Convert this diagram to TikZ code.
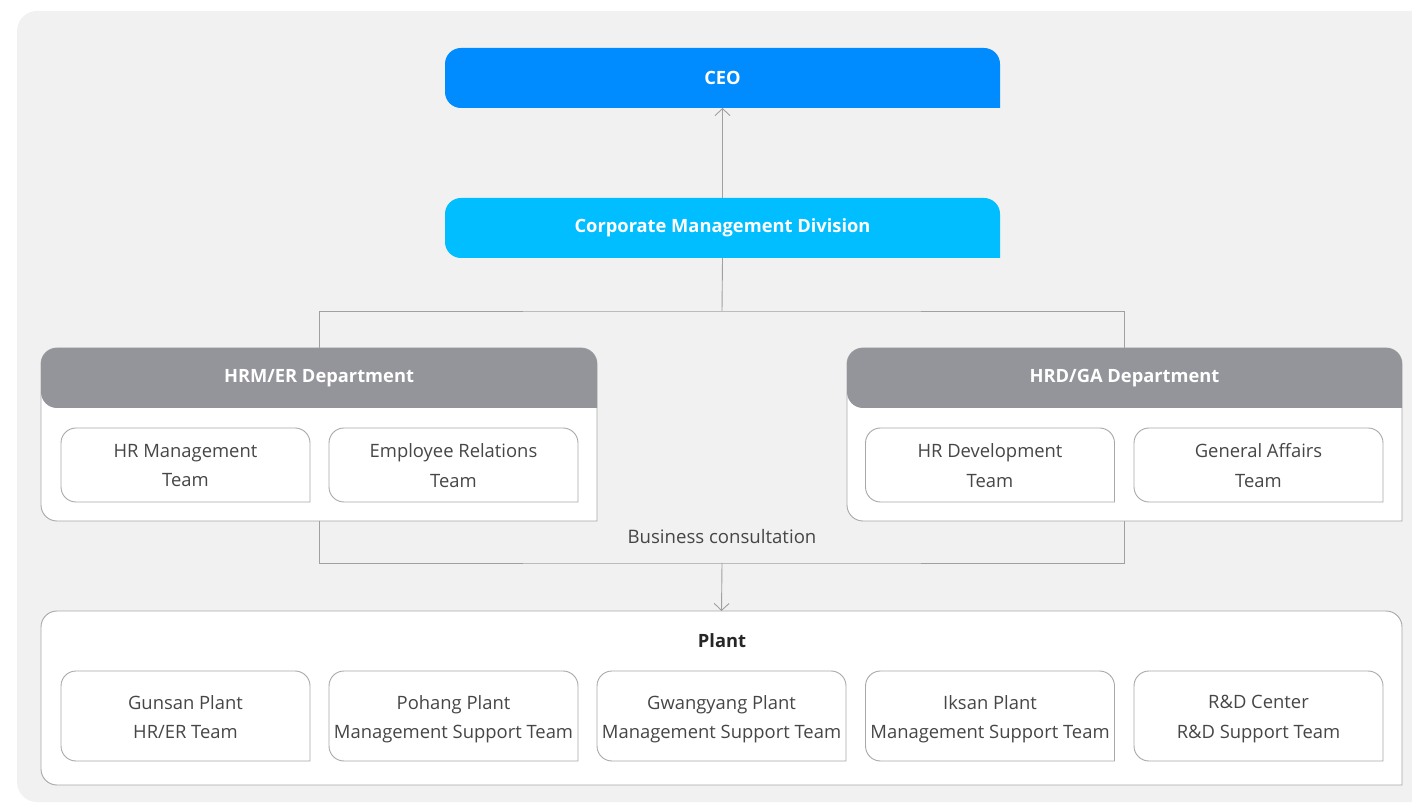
\documentclass[tikz,border=0pt]{standalone}
\usepackage{fontspec}
\setmainfont{Open Sans}
\usetikzlibrary{arrows.meta}
\definecolor{bgc}{RGB}{241,241,241}
\definecolor{ceoc}{RGB}{0,139,255}
\definecolor{cmdc}{RGB}{0,190,255}
\definecolor{deptc}{RGB}{148,149,154}
\definecolor{bordc}{RGB}{168,168,168}
\definecolor{linec}{RGB}{160,160,160}
\definecolor{txtc}{RGB}{70,70,70}
\pgfdeclarelayer{back}
\pgfdeclarelayer{shapes}
\pgfsetlayers{back,shapes,main}
\newcommand\tribox[3]{%
  \path[#2] (#1.south east) -- ([xshift=#3]#1.south west)
    arc[start angle=270,end angle=180,radius=#3]
    -- ([yshift=-#3]#1.north west)
    arc[start angle=180,end angle=90,radius=#3]
    -- ([xshift=-#3]#1.north east)
    arc[start angle=90,end angle=0,radius=#3] -- cycle;}
\tikzset{
  frame/.style={inner sep=0pt,outer sep=0pt},
  boldlbl/.style={frame,text=white,font=\bfseries\fontsize{18.3}{22}\selectfont},
  teambox/.style={frame,minimum width=249pt},
  teamtxt/.style={frame,align=center,text=txtc,
    font=\fontsize{18.4}{29.5}\selectfont},
  conn/.style={draw=linec,line width=0.9pt},
  arr/.style={conn,-{Straight Barb[length=7pt,width=15pt,line width=0.9pt]}},
}
\begin{document}
\begin{tikzpicture}[x=1pt,y=1pt]
\useasboundingbox (0,0) rectangle (1412,803);
% top boxes
\node[boldlbl,minimum width=555pt,minimum height=60pt] (ceo) at (722.5,725) {CEO};
\node[boldlbl,minimum width=555pt,minimum height=60pt] (cmd) at (722.5,575) {Corporate Management Division};
% departments
\node[frame,minimum width=556pt,minimum height=173pt] (hrm) at (319,368.5) {};
\node[boldlbl,minimum width=556pt,minimum height=60pt] (hrmh) at (319,425) {HRM/ER Department};
\node[teambox,minimum height=74pt] (hrmt) at (185.5,338) {};
\node[teambox,minimum height=74pt] (ert) at (453.5,338) {};
\node[frame,minimum width=555pt,minimum height=173pt] (hrd) at (1124.5,368.5) {};
\node[boldlbl,minimum width=555pt,minimum height=60pt] (hrdh) at (1124.5,425) {HRD/GA Department};
\node[teambox,minimum height=74pt] (hrdt) at (990,338) {};
\node[teambox,minimum height=74pt] (gat) at (1258.5,338) {};
\node[teamtxt] (hrmtx) at ([yshift=-0.5pt]hrmt.center) {HR Management\\Team};
\node[teamtxt] (ertx) at ([yshift=-0.5pt]ert.center) {Employee Relations\\Team};
\node[teamtxt] (hrdtx) at ([yshift=-0.5pt]hrdt.center) {HR Development\\Team};
\node[teamtxt] (gatx) at ([yshift=-0.5pt]gat.center) {General Affairs\\Team};
% plant
\node[frame,minimum width=1361pt,minimum height=174pt] (plant) at (721.5,105) {};
\node[frame,text=black!85,font=\bfseries\fontsize{18.3}{22}\selectfont] (plantl) at (722,162.5) {Plant};
\node[teambox,minimum height=90pt] (p1) at (185.5,87) {};
\node[teambox,minimum height=90pt] (p2) at (453.5,87) {};
\node[teambox,minimum height=90pt] (p3) at (721.5,87) {};
\node[teambox,minimum height=90pt] (p4) at (990,87) {};
\node[teambox,minimum height=90pt] (p5) at (1258.5,87) {};
\node[teamtxt] (p1x) at ([yshift=-1pt]p1.center) {Gunsan Plant\\HR/ER Team};
\node[teamtxt] (p2x) at ([yshift=-3pt]p2.center) {Pohang Plant\\Management Support Team};
\node[teamtxt] (p3x) at ([yshift=-3pt]p3.center) {Gwangyang Plant\\Management Support Team};
\node[teamtxt] (p4x) at ([yshift=-3pt]p4.center) {Iksan Plant\\Management Support Team};
\node[teamtxt] (p5x) at ([yshift=-3pt]p5.center) {R\&D Center\\R\&D Support Team};
\node[frame,text=txtc,font=\fontsize{18.6}{22}\selectfont] (bc) at (722,266) {Business consultation};
% junctions
\coordinate (j1) at (722,492);
\coordinate (j2) at (722,240);
% connectors
\draw[arr] (cmd.north) -- (ceo.south);
\draw[conn] (cmd.south) -- (j1);
\draw[conn] (hrm.north) |- (j1) -| (hrd.north);
\draw[conn] (hrm.south) |- (j2) -| (hrd.south);
\draw[arr] (j2) -- (plant.north);
% shapes
\begin{pgfonlayer}{back}
  \fill[bgc,rounded corners=20pt] (17,1) rectangle (1440,792);
\end{pgfonlayer}
\begin{pgfonlayer}{shapes}
  \tribox{ceo}{fill=ceoc}{16pt}
  \tribox{cmd}{fill=cmdc}{16pt}
  \tribox{hrm}{fill=white,draw=bordc,line width=0.9pt}{16pt}
  \tribox{hrmh}{fill=deptc}{16pt}
  \tribox{hrd}{fill=white,draw=bordc,line width=0.9pt}{16pt}
  \tribox{hrdh}{fill=deptc}{16pt}
  \tribox{hrmt}{fill=white,draw=bordc,line width=0.9pt}{15pt}
  \tribox{ert}{fill=white,draw=bordc,line width=0.9pt}{15pt}
  \tribox{hrdt}{fill=white,draw=bordc,line width=0.9pt}{15pt}
  \tribox{gat}{fill=white,draw=bordc,line width=0.9pt}{15pt}
  \tribox{plant}{fill=white,draw=bordc,line width=0.9pt}{16pt}
  \tribox{p1}{fill=white,draw=bordc,line width=0.9pt}{15pt}
  \tribox{p2}{fill=white,draw=bordc,line width=0.9pt}{15pt}
  \tribox{p3}{fill=white,draw=bordc,line width=0.9pt}{15pt}
  \tribox{p4}{fill=white,draw=bordc,line width=0.9pt}{15pt}
  \tribox{p5}{fill=white,draw=bordc,line width=0.9pt}{15pt}
\end{pgfonlayer}
\end{tikzpicture}
\end{document}
